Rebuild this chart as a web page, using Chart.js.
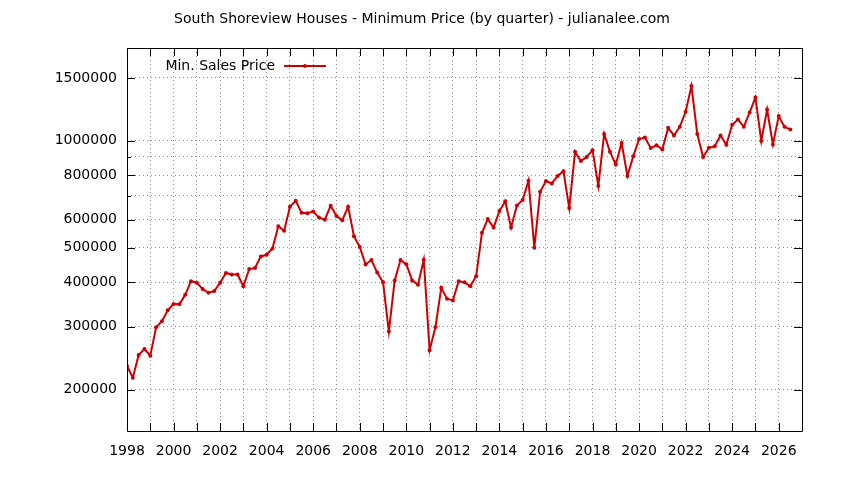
<!DOCTYPE html>
<html>
<head>
<meta charset="utf-8">
<script src="https://cdn.jsdelivr.net/npm/chart.js@4/dist/chart.umd.min.js"></script>
<style>
html,body{margin:0;padding:0;background:#fff;}
#c{display:block;}
</style>
</head>
<body>
<canvas id="c" width="844" height="480"></canvas>
<script>
// ---- data ----
const titleText = 'South Shoreview Houses - Minimum Price (by quarter) - julianalee.com';
const seriesLabel = 'Min. Sales Price';
const startYear = 1998;            // first quarter = 1998 Q1
const minPrice = [
  233000, 216000, 250000, 260000,   // 1998
  249000, 299000, 311000, 334000,   // 1999
  348000, 347000, 369000, 403000,   // 2000
  399000, 383000, 374000, 378000,   // 2001
  399000, 425000, 421000, 421000,   // 2002
  390000, 436000, 439000, 473000,   // 2003
  478000, 498000, 575000, 558000,   // 2004
  652000, 678000, 627000, 625000,   // 2005
  632000, 608000, 600000, 656000,   // 2006
  614000, 598000, 652000, 539000,   // 2007
  503000, 449000, 462000, 426000,   // 2008
  400000, 291000, 405000, 462000,   // 2009
  450000, 405000, 394000, 463000,   // 2010
  258000, 299000, 386000, 360000,   // 2011
  356000, 403000, 400000, 390000,   // 2012
  416000, 551000, 602000, 570000,   // 2013
  634000, 676000, 570000, 657000,   // 2014
  681000, 772000, 500000, 718000,   // 2015
  770000, 758000, 796000, 821000,   // 2016
  647000, 930000, 876000, 900000,   // 2017
  940000, 746000, 1044000, 930000,  // 2018
  857000, 985000, 796000, 904000,   // 2019
  1010000, 1020000, 954000, 970000, // 2020
  945000, 1086000, 1034000, 1093000,// 2021
  1205000, 1423000, 1044000, 900000,// 2022
  955000, 965000, 1034000, 973000,  // 2023
  1108000, 1147000, 1093000, 1200000,// 2024
  1322000, 997000, 1223000, 976000, // 2025
  1172000, 1093000, 1075000         // 2026
];
const yTickValues = [200000, 300000, 400000, 500000, 600000, 700000, 800000, 900000, 1000000, 1500000];
const yTickLabeled = [200000, 300000, 400000, 500000, 600000, 800000, 1000000, 1500000];
const xMin = 1998, xMax = 2027;

const points = minPrice.map((v, i) => ({ x: startYear + i / 4, y: v }));

const RED = '#cc0000';
const FONT = 'DejaVu Sans';

const framePlugin = {
  id: 'frame',
  afterDraw(chart) {
    const ctx = chart.ctx, a = chart.chartArea;
    const xs = chart.scales.x, ys = chart.scales.y;
    ctx.save();
    ctx.strokeStyle = '#000';
    ctx.lineWidth = 1;
    ctx.beginPath();
    ctx.rect(Math.round(a.left) + 0.5, Math.round(a.top) + 0.5,
             Math.round(a.right - a.left), Math.round(a.bottom - a.top));
    ctx.stroke();
    // x ticks (every year), inward on bottom and top
    ctx.beginPath();
    for (let yr = xMin + 1; yr < xMax; yr++) {
      const px = Math.round(xs.getPixelForValue(yr)) + 0.5;
      ctx.moveTo(px, a.bottom); ctx.lineTo(px, a.bottom - 8);
      ctx.moveTo(px, a.top); ctx.lineTo(px, a.top + 8);
    }
    // y ticks inward on left and right
    yTickValues.forEach(v => {
      const py = Math.round(ys.getPixelForValue(v)) + 0.5;
      const len = yTickLabeled.includes(v) ? 8 : 4;
      ctx.moveTo(a.left, py); ctx.lineTo(a.left + len, py);
      ctx.moveTo(a.right, py); ctx.lineTo(a.right - len, py);
    });
    ctx.stroke();
    // title
    ctx.fillStyle = '#000';
    ctx.font = '14px "' + FONT + '"';
    ctx.textAlign = 'center';
    ctx.textBaseline = 'middle';
    ctx.fillText(titleText, chart.width / 2, 19);
    // legend (gnuplot style: text right-justified, then sample)
    const ly = 66;
    ctx.textAlign = 'right';
    ctx.fillText(chart.data.datasets[0].label, 275, ly);
    ctx.strokeStyle = RED;
    ctx.lineWidth = 2;
    ctx.beginPath();
    ctx.moveTo(284, ly); ctx.lineTo(326, ly);
    ctx.stroke();
    ctx.fillStyle = RED;
    ctx.beginPath();
    ctx.arc(305, ly, 2, 0, Math.PI * 2);
    ctx.fill();
    ctx.restore();
  }
};

new Chart(document.getElementById('c'), {
  type: 'line',
  data: {
    datasets: [{
      label: seriesLabel,
      data: points,
      borderColor: RED,
      backgroundColor: RED,
      borderWidth: 2,
      pointRadius: 2,
      pointHoverRadius: 2,
      pointBorderWidth: 0,
      tension: 0,
      fill: false
    }]
  },
  options: {
    responsive: false,
    animation: false,
    events: [],
    layout: { padding: { left: 0, right: 42, top: 48, bottom: 0 } },
    plugins: { legend: { display: false }, title: { display: false }, tooltip: { enabled: false } },
    scales: {
      x: {
        type: 'linear',
        min: xMin, max: xMax,
        afterFit(s) { s.height = 49; },
        afterBuildTicks(s) {
          const t = [];
          for (let yr = xMin; yr <= xMax; yr++) t.push({ value: yr });
          s.ticks = t;
        },
        ticks: {
          autoSkip: false, maxRotation: 0, padding: 12,
          color: '#000',
          font: { family: FONT, size: 14 },
          callback: v => (v % 2 === 0 && v < xMax) ? String(v) : ''
        },
        grid: { color: '#8c8c8c', lineWidth: 1, drawTicks: false },
        border: { display: false, dash: [1, 3] }
      },
      y: {
        type: 'logarithmic',
        min: 153000, max: 1820000,
        afterFit(s) { s.width = 127; },
        afterBuildTicks(s) { s.ticks = yTickValues.map(v => ({ value: v })); },
        ticks: {
          autoSkip: false, padding: 10,
          color: '#000',
          font: { family: FONT, size: 14 },
          callback: v => yTickLabeled.includes(v) ? String(v) : ''
        },
        grid: { color: '#8c8c8c', lineWidth: 1, drawTicks: false },
        border: { display: false, dash: [1, 3] }
      }
    }
  },
  plugins: [framePlugin]
});
</script>
</body>
</html>
